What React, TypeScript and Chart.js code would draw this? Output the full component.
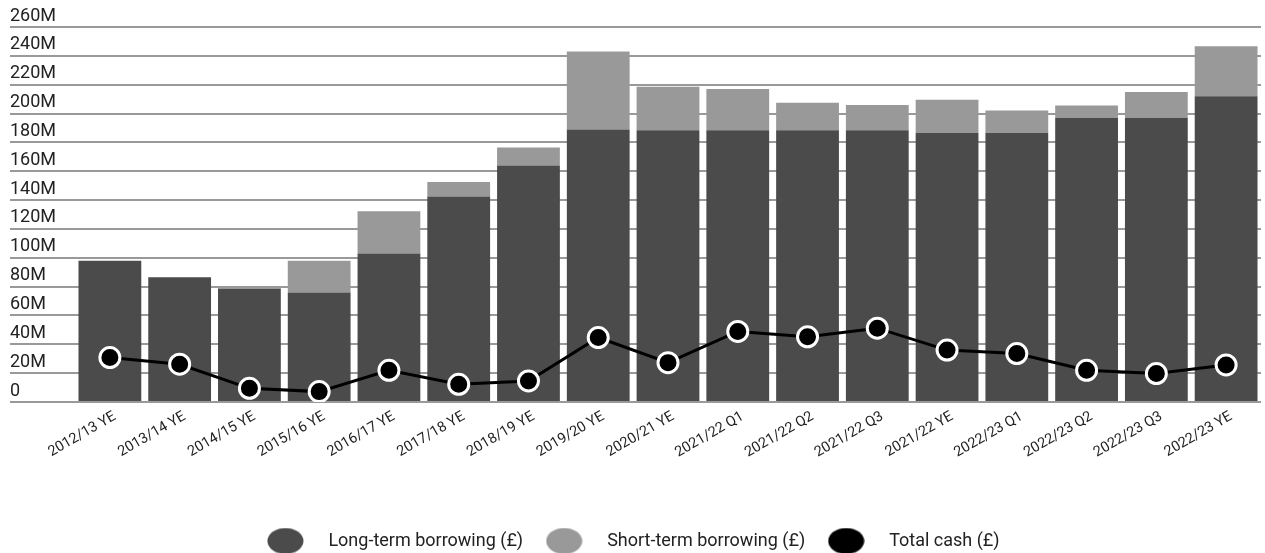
import React, { useEffect, useRef } from 'react';
import { Chart, registerables } from 'chart.js';

Chart.register(...registerables);

const categories = [
  '2012/13 YE', '2013/14 YE', '2014/15 YE', '2015/16 YE', '2016/17 YE', '2017/18 YE',
  '2018/19 YE', '2019/20 YE', '2020/21 YE', '2021/22 Q1', '2021/22 Q2', '2021/22 Q3',
  '2021/22 YE', '2022/23 Q1', '2022/23 Q2', '2022/23 Q3', '2022/23 YE',
];

// values in £ millions
const longTermBorrowing = [98, 86.5, 78.5, 76, 103, 142.5, 164, 189, 188.5, 188.5, 188.5, 188.5, 186.6, 186.6, 197, 197, 212];
const shortTermBorrowing = [0, 0, 1.5, 22, 29.3, 10, 12.4, 54, 30, 28.5, 19, 17.5, 23, 15.5, 8.6, 18, 34.6];
const totalCash = [30.8, 26.2, 9.5, 7.2, 22, 12.3, 14.6, 44.7, 27.3, 48.9, 45.2, 51.2, 36, 33.6, 22, 19.7, 25.7];

const seriesNames = ['Long-term borrowing (£)', 'Short-term borrowing (£)', 'Total cash (£)'];
const yMin = 0;
const yMax = 260;
const yStep = 20;

const DARK = '#4b4b4b';
const LIGHT = '#999999';
const FONT = 'Roboto';

function makeSwatch(color: string, w: number, h: number) {
  const c = document.createElement('canvas');
  c.width = w;
  c.height = h;
  const ctx = c.getContext('2d')!;
  ctx.fillStyle = color;
  ctx.beginPath();
  ctx.ellipse(w / 2, h / 2, w / 2 - 0.5, h / 2 - 0.5, 0, 0, Math.PI * 2);
  ctx.fill();
  return c;
}

const legendShift = {
  id: 'legendShift',
  afterLayout(chart: any) {
    const lg = chart.legend;
    if (!lg) return;
    lg.left -= 10;
    lg.right -= 10;
    lg.top += 7;
    lg.bottom += 7;
  },
};

export default function App() {
  const ref = useRef<HTMLCanvasElement | null>(null);

  useEffect(() => {
    if (!ref.current) return;
    const swatches = [makeSwatch(DARK, 37, 27), makeSwatch(LIGHT, 37, 27), makeSwatch('#000000', 37, 27)];
    const chart = new Chart(ref.current, {
      data: {
        labels: categories,
        datasets: [
          {
            type: 'bar',
            label: seriesNames[0],
            data: longTermBorrowing,
            backgroundColor: DARK,
            stack: 'debt',
            order: 1,
            categoryPercentage: 0.9,
            barPercentage: 1,
          },
          {
            type: 'bar',
            label: seriesNames[1],
            data: shortTermBorrowing,
            backgroundColor: LIGHT,
            stack: 'debt',
            order: 1,
            categoryPercentage: 0.9,
            barPercentage: 1,
          },
          {
            type: 'line',
            label: seriesNames[2],
            data: totalCash,
            borderColor: '#000000',
            backgroundColor: '#000000',
            borderWidth: 3,
            pointRadius: 10,
            pointHoverRadius: 10,
            pointBackgroundColor: '#000000',
            pointBorderColor: '#ffffff',
            pointBorderWidth: 3,
            tension: 0,
            stack: 'cash',
            order: 0,
          },
        ],
      } as any,
      options: {
        animation: false,
        responsive: true,
        maintainAspectRatio: false,
        layout: { autoPadding: false, padding: { left: 10, right: 4, top: 27, bottom: 0 } },
        scales: {
          x: {
            stacked: true,
            grid: { display: false },
            border: { display: false },
            ticks: {
              minRotation: 30,
              maxRotation: 30,
              autoSkip: false,
              color: '#222',
              font: { family: FONT, size: 14.5 },
              padding: -2,
              labelOffset: 5,
            },
            afterFit: (s: any) => {
              s.height = 116;
              s.paddingLeft = 0;
              s.paddingRight = 0;
            },
          },
          y: {
            stacked: true,
            min: yMin,
            max: yMax,
            ticks: {
              stepSize: yStep,
              callback: (v: any) => (Number(v) === 0 ? '0' : `${v}M`),
              color: '#222',
              font: { family: FONT, size: 18 },
              crossAlign: 'far',
              labelOffset: -11,
              padding: 0,
            },
            grid: { color: '#999999', lineWidth: 2, tickLength: 65, drawTicks: true },
            border: { display: false },
            afterFit: (s: any) => { s.width = 65; },
          },
        },
        plugins: {
          tooltip: { enabled: false },
          legend: {
            position: 'bottom',
            labels: {
              usePointStyle: true,
              pointStyleWidth: 68,
              color: '#222',
              font: { family: FONT, size: 18 },
              padding: 7,
              generateLabels: (ch: any) => {
                const items = (Chart.defaults.plugins.legend.labels as any).generateLabels(ch);
                items.sort((a: any, b: any) => a.datasetIndex - b.datasetIndex);
                items.forEach((it: any) => { it.pointStyle = swatches[it.datasetIndex]; });
                return items;
              },
            },
          },
        },
      } as any,
      plugins: [legendShift],
    });
    return () => chart.destroy();
  }, []);

  return (
    <div style={{ position: 'fixed', left: 0, top: 0, width: '100vw', height: '100vh', background: '#fff' }}>
      <canvas ref={ref} />
    </div>
  );
}
